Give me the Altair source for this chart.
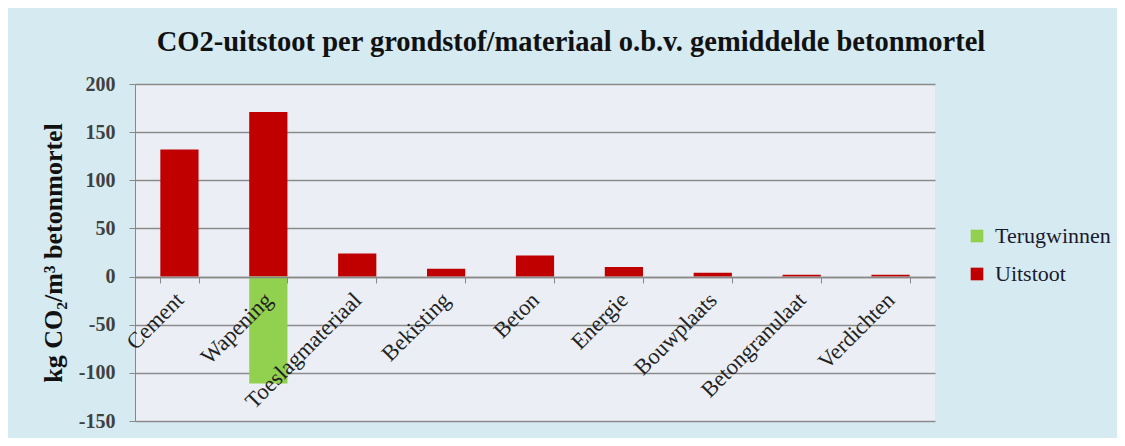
import altair as alt
import pandas as pd

categories = ["Cement", "Wapening", "Toeslagmateriaal", "Bekisting", "Beton",
              "Energie", "Bouwplaats", "Betongranulaat", "Verdichten"]
uitstoot = [132, 171, 24, 8, 22, 10, 4, 2, 2]
terugwinnen = [0, -111, 0, 0, 0, 0, 0, 0, 0]
series = ["Terugwinnen", "Uitstoot"]
colors = ["#92D050", "#C00000"]

rows = []
for c, u, t in zip(categories, uitstoot, terugwinnen):
    rows.append({"cat": c, "serie": "Uitstoot", "val": u})
    rows.append({"cat": c, "serie": "Terugwinnen", "val": t})
df = pd.DataFrame(rows)

font = "Liberation Serif"

chart = alt.Chart(df).mark_bar().encode(
    x=alt.X("cat:N", sort=categories,
            scale=alt.Scale(paddingInner=0.57, paddingOuter=0.285),
            axis=alt.Axis(title=None, orient="bottom", offset=-144,
                          labelAngle=315, labelAlign="right", labelBaseline="middle",
                          labelFont=font, labelFontSize=22.5, labelColor="#222222",
                          labelPadding=13, tickBand="extent", tickSize=6,
                          tickColor="#888888", domainColor="#888888",
                          domainWidth=1.5, grid=False, zindex=1)),
    y=alt.Y("val:Q", stack="zero",
            scale=alt.Scale(domain=[-150, 200], nice=False),
            axis=alt.Axis(title="kg CO\u2082/m\u00b3 betonmortel", values=[-150, -100, -50, 0, 50, 100, 150, 200],
                          labelExpr="'' + datum.value",
                          titleFont=font, titleFontSize=26, titleFontWeight="bold",
                          titleColor="#111111", titlePadding=12,
                          labelFont=font, labelFontSize=20, labelFontWeight="bold",
                          labelColor="#404040", labelPadding=14,
                          tickSize=6, tickColor="#888888", domainColor="#888888",
                          gridColor="#8A8A8A", gridWidth=1.3)),
    color=alt.Color("serie:N", sort=series,
                    scale=alt.Scale(domain=series, range=colors),
                    legend=alt.Legend(title=None, orient="none", legendX=831, legendY=141,
                                      symbolType="square", symbolSize=160,
                                      symbolStrokeWidth=0,
                                      labelFont=font, labelFontSize=22,
                                      labelColor="#1a1a2e", rowPadding=16,
                                      labelOffset=7)),
    order=alt.Order("serie:N"),
).properties(
    width=800, height=337,
    title=alt.TitleParams("CO2-uitstoot per grondstof/materiaal  o.b.v. gemiddelde betonmortel",
                          font=font, fontSize=28.5, fontWeight="bold", color="#111111",
                          anchor="middle", dx=36, offset=18),
    autosize=alt.AutoSizeParams(type="none"),
    padding={"left": 127, "top": 76, "right": 182, "bottom": 17},
    background="#D6EAF2",
).configure_view(fill="#EBEFF5", stroke=None)

chart.save("out.html", embed_options={"renderer": "svg", "actions": False})
